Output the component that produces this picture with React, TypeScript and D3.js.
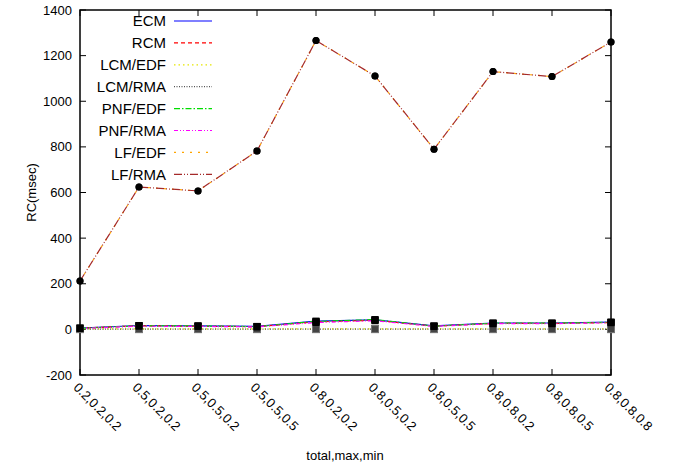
import React, { useEffect, useRef } from 'react'
import * as d3 from 'd3'

const categories = [
  '0.2,0.2,0.2', '0.5,0.2,0.2', '0.5,0.5,0.2', '0.5,0.5,0.5', '0.8,0.2,0.2',
  '0.8,0.5,0.2', '0.8,0.5,0.5', '0.8,0.8,0.2', '0.8,0.8,0.5', '0.8,0.8,0.8',
]
const yTicks = [-200, 0, 200, 400, 600, 800, 1000, 1200, 1400]

const ecm = [6, 17, 15, 13, 36, 42, 15, 28, 28, 32]
const rcm = [5, 16, 14, 12, 33, 40, 14, 26, 26, 30]
const lcmEdf = [2, 2, 2, 2, 2, 2, 2, 2, 2, 2]
const lcmRma = [1, 1, 1, 1, 1, 1, 1, 1, 1, 1]
const pnfEdf = [5, 16, 15, 12, 35, 43, 14, 27, 27, 31]
const pnfRma = [4, 14, 13, 11, 30, 38, 13, 25, 25, 29]
const lfEdf = [212, 624, 607, 782, 1266, 1111, 790, 1130, 1108, 1260]
const lfRma = [212, 624, 607, 782, 1266, 1111, 790, 1130, 1108, 1260]

const series = [
  { name: 'ECM', values: ecm, color: '#0000ff', dash: null, marker: 'square' },
  { name: 'RCM', values: rcm, color: '#ff0000', dash: '4,3', marker: 'square' },
  { name: 'LCM/EDF', values: lcmEdf, color: '#e6e600', dash: '1.5,3', marker: 'hollow' },
  { name: 'LCM/RMA', values: lcmRma, color: '#555555', dash: '1,1.5', marker: 'hollow' },
  { name: 'PNF/EDF', values: pnfEdf, color: '#00dd00', dash: '6,2,1.5,2', marker: 'square' },
  { name: 'PNF/RMA', values: pnfRma, color: '#ff00ff', dash: '4,2,1,2,1,2', marker: 'square' },
  { name: 'LF/EDF', values: lfEdf, color: '#ffa500', dash: '2,6', marker: 'circle' },
  { name: 'LF/RMA', values: lfRma, color: '#a52a2a', dash: '8,2,1,2,1,2', marker: 'circle' },
]

const FONT = '"Liberation Sans", Arial, sans-serif'

export default function App() {
  const svgRef = useRef<SVGSVGElement>(null)
  const width = 679
  const height = 466

  useEffect(() => {
    if (!svgRef.current) return
    const svg = d3.select(svgRef.current)
    svg.selectAll('*').remove()

    const margin = { top: 10, right: 68, bottom: 91, left: 80 }
    const x0 = margin.left
    const x1 = width - margin.right
    const y0 = margin.top
    const y1 = height - margin.bottom

    const xScale = d3.scalePoint<string>().domain(categories).range([x0, x1])
    const yScale = d3.scaleLinear().domain([-200, 1400]).range([y1, y0])

    svg.append('rect').attr('width', width).attr('height', height).attr('fill', '#fff')

    // ticks (inward, mirrored)
    const tickLen = 6
    yTicks.forEach(t => {
      const y = yScale(t)
      svg.append('line').attr('x1', x0).attr('x2', x0 + tickLen).attr('y1', y).attr('y2', y)
        .attr('stroke', '#000').attr('stroke-width', 1)
      svg.append('line').attr('x1', x1).attr('x2', x1 - tickLen).attr('y1', y).attr('y2', y)
        .attr('stroke', '#000').attr('stroke-width', 1)
      svg.append('text')
        .attr('x', x0 - 8).attr('y', y).attr('dy', '0.35em')
        .attr('text-anchor', 'end')
        .style('font-family', FONT).style('font-size', '13px')
        .text(t)
    })
    categories.forEach(c => {
      const x = xScale(c)!
      svg.append('line').attr('x1', x).attr('x2', x).attr('y1', y1).attr('y2', y1 - tickLen)
        .attr('stroke', '#000').attr('stroke-width', 1)
      svg.append('line').attr('x1', x).attr('x2', x).attr('y1', y0).attr('y2', y0 + tickLen)
        .attr('stroke', '#000').attr('stroke-width', 1)
      svg.append('text')
        .attr('transform', `translate(${x - 4},${y1 + 10}) rotate(45)`)
        .attr('dy', '0.35em')
        .style('font-family', FONT).style('font-size', '13px')
        .text(c)
    })

    // border
    svg.append('rect').attr('x', x0).attr('y', y0).attr('width', x1 - x0).attr('height', y1 - y0)
      .attr('fill', 'none').attr('stroke', '#000').attr('stroke-width', 1.5)

    // axis labels
    svg.append('text')
      .attr('transform', `translate(36,${(y0 + y1) / 2}) rotate(-90)`)
      .attr('text-anchor', 'middle')
      .style('font-family', FONT).style('font-size', '13px')
      .text('RC(msec)')
    svg.append('text')
      .attr('x', 345).attr('y', 460)
      .attr('text-anchor', 'middle')
      .style('font-family', FONT).style('font-size', '13px')
      .text('total,max,min')

    const line = d3.line<number>()
      .x((_, i) => xScale(categories[i])!)
      .y(d => yScale(d))

    series.forEach(s => {
      svg.append('path')
        .attr('d', line(s.values))
        .attr('fill', 'none')
        .attr('stroke', s.color)
        .attr('stroke-width', 1.2)
        .attr('stroke-dasharray', s.dash)
    })

    // markers
    series.forEach(s => {
      s.values.forEach((v, i) => {
        const cx = xScale(categories[i])!
        const cy = yScale(v)
        if (s.marker === 'circle') {
          svg.append('circle').attr('cx', cx).attr('cy', cy).attr('r', 3.5).attr('fill', '#000')
        } else if (s.marker === 'hollow') {
          svg.append('rect').attr('x', cx - 3.5).attr('y', cy - 3.5).attr('width', 7).attr('height', 7)
            .attr('fill', '#444').attr('stroke', '#777').attr('stroke-width', 1)
        } else {
          svg.append('rect').attr('x', cx - 3.5).attr('y', cy - 3.5).attr('width', 7).attr('height', 7)
            .attr('fill', '#000')
        }
      })
    })

    // legend
    series.forEach((s, i) => {
      const ly = 21 + i * 21.9
      svg.append('text')
        .attr('x', 166).attr('y', ly).attr('dy', '0.35em')
        .attr('text-anchor', 'end')
        .style('font-family', FONT).style('font-size', '15px')
        .text(s.name)
      svg.append('line')
        .attr('x1', 174).attr('x2', 212).attr('y1', ly).attr('y2', ly)
        .attr('stroke', s.color).attr('stroke-width', 1.2)
        .attr('stroke-dasharray', s.dash)
    })
  }, [])

  return (
    <svg ref={svgRef} width={width} height={height}
      style={{ position: 'absolute', left: 0, top: 0, display: 'block' }} />
  )
}
